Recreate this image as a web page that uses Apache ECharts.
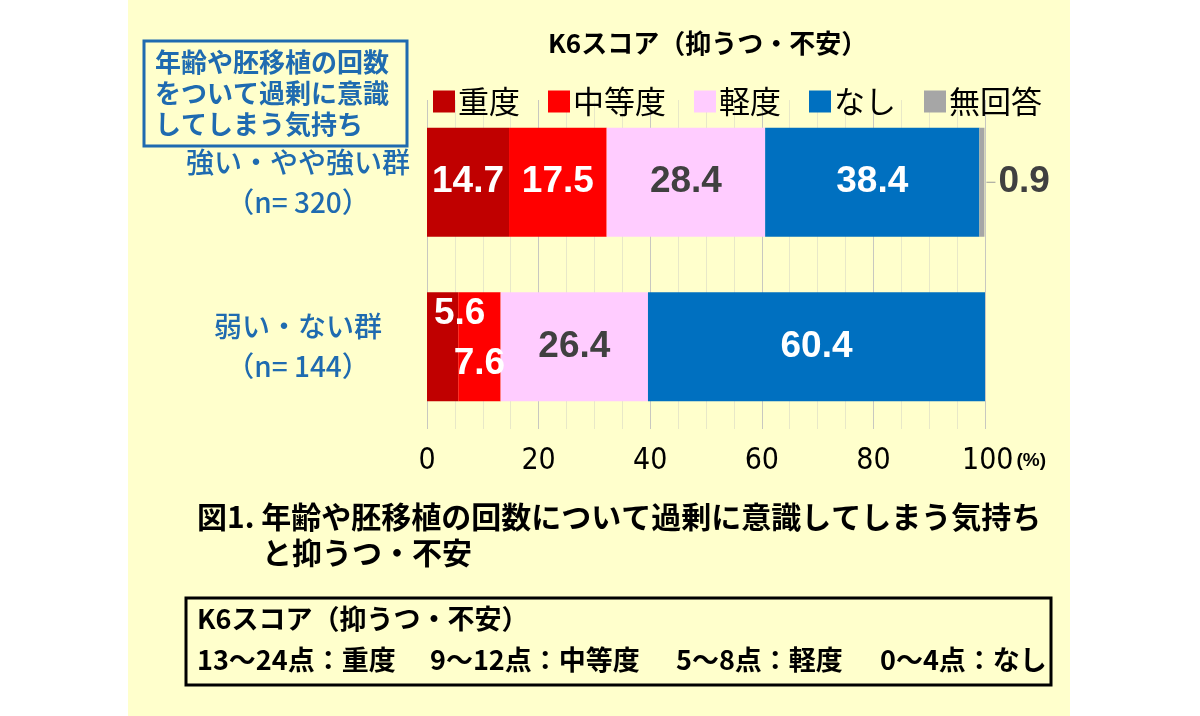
<!DOCTYPE html>
<html><head><meta charset="utf-8">
<script src="https://cdn.jsdelivr.net/npm/echarts@6/dist/echarts.min.js"></script>
<style>html,body{margin:0;padding:0;background:#fff;}#c{width:1200px;height:716px;}</style>
</head><body><div id="c"></div>
<script>
const categories = ['強い・やや強い群\n（n= 320）', '弱い・ない群\n（n= 144）'];
const seriesNames = ['重度', '中等度', '軽度', 'なし', '無回答'];
const severe = [14.7, 5.6];
const moderate = [17.5, 7.6];
const mild = [28.4, 26.4];
const none = [38.4, 60.4];
const noAnswer = [0.9, 0];
const xTicks = [0, 20, 40, 60, 80, 100];
const scoreGroups = ['13～24点：重度', '9～12点：中等度', '5～8点：軽度', '0～4点：なし'];

const JP = '"Noto Sans CJK JP", sans-serif';
const NUM = '"Liberation Sans", Arial, sans-serif';
const NARROW = '"Liberation Sans Narrow", "DejaVu Sans Condensed", "Liberation Sans", sans-serif';
const colors = ['#C00000', '#FF0000', '#FFCCFF', '#0070C0', '#A6A6A6'];
const labelColors = ['#ffffff', '#ffffff', '#404040', '#ffffff', '#404040'];
const blue = '#1F6BB0';

const chart = echarts.init(document.getElementById('c'));

function mk(name, idx, values) {
  return {
    name: name, type: 'bar', stack: 'total', barWidth: 109,
    itemStyle: { color: colors[idx] },
    label: {
      show: true, position: idx === 4 ? 'right' : 'inside',
      color: labelColors[idx], fontFamily: NUM, fontSize: 37, fontWeight: 'bold',
      formatter: p => p.value > 0 ? String(p.value) : ''
    },
    data: values.map(v => ({ value: v }))
  };
}
const s0 = mk('重度', 0, severe);
const s1 = mk('中等度', 1, moderate);
const s2 = mk('軽度', 2, mild);
const s3 = mk('なし', 3, none);
const s4 = mk('無回答', 4, noAnswer);
s0.data[1].label = { offset: [17, -33] };
s1.data[1].label = { offset: [0, 17] };
s4.label.distance = 2;
s4.label.formatter = p => p.value > 0 ? '{l|}{v|' + p.value + '}' : '';
s4.label.rich = {
  l: { width: 9, height: 1, backgroundColor: '#999999' },
  v: { fontFamily: NUM, fontSize: 37, fontWeight: 'bold', color: '#404040', padding: [0, 0, 0, 3] }
};

const groupX = [197, 430, 676, 880];
const scoreText = scoreGroups.map((t, i) => ({
  type: 'text', left: groupX[i], top: 646,
  style: { text: t, font: 'bold 27px ' + JP, fill: '#000' }
}));

chart.setOption({
  backgroundColor: '#ffffff',
  animation: false,
  graphic: [
    { type: 'rect', z: -10, silent: true, shape: { x: 128, y: 0, width: 942, height: 716 }, style: { fill: '#FFFFCC' } },
    { type: 'rect', shape: { x: 144, y: 41, width: 263, height: 105 }, style: { fill: 'none', stroke: blue, lineWidth: 3 } },
    { type: 'text', left: 155, top: 47, style: { text: '年齢や胚移植の回数\nをついて過剰に意識\nしてしまう気持ち', font: 'bold 26px ' + JP, fill: blue, lineHeight: 31 } },
    { type: 'text', left: 548, top: 30, style: { text: 'K6スコア（抑うつ・不安）', font: 'bold 26px ' + JP, fill: '#000' } },
    { type: 'text', left: 197, top: 502, style: { text: '図1. 年齢や胚移植の回数について過剰に意識してしまう気持ち', font: 'bold 30px ' + JP, fill: '#000' } },
    { type: 'text', left: 262, top: 538, style: { text: 'と抑うつ・不安', font: 'bold 30px ' + JP, fill: '#000' } },
    { type: 'rect', shape: { x: 186, y: 598, width: 865, height: 87 }, style: { fill: 'none', stroke: '#000', lineWidth: 3 } },
    { type: 'text', left: 197, top: 605, style: { text: 'K6スコア（抑うつ・不安）', font: 'bold 27px ' + JP, fill: '#000' } }
  ].concat(scoreText),
  legend: {
    left: 428, top: 81, itemWidth: 22, itemHeight: 22, itemGap: 28,
    icon: 'rect', data: seriesNames,
    textStyle: { fontFamily: JP, fontSize: 31, color: '#000', padding: [0, 0, 0, -2] }
  },
  grid: { left: 427, right: 215, top: 100, bottom: 287 },
  xAxis: {
    type: 'value', min: 0, max: 100, interval: 20,
    axisLine: { show: false }, axisTick: { show: false },
    splitLine: { show: true, lineStyle: { color: '#c8c8c0', width: 1 } },
    minorTick: { show: false, splitNumber: 4 },
    minorSplitLine: { show: true, lineStyle: { color: '#e8e8c8', width: 1 } },
    axisLabel: {
      margin: 17, color: '#000', fontFamily: NARROW, fontSize: 30,
      formatter: v => xTicks.indexOf(v) < 0 ? '' : (v === 100 ? '{pad|}100{p|(%)}' : String(v)),
      rich: {
        pad: { width: 38 },
        p: { fontFamily: NUM, fontWeight: 'bold', fontSize: 19, color: '#000', padding: [0, 0, 0, 3] }
      }
    }
  },
  yAxis: {
    type: 'category', inverse: true, data: categories,
    axisLine: { show: false }, axisTick: { show: false }, splitLine: { show: false },
    axisLabel: {
      margin: 129, align: 'center', color: blue, fontFamily: JP, fontSize: 28, fontWeight: 500,
      lineHeight: 40, padding: [20, 0, 0, 0]
    }
  },
  series: [s0, s1, s2, s3, s4]
});
</script></body></html>
